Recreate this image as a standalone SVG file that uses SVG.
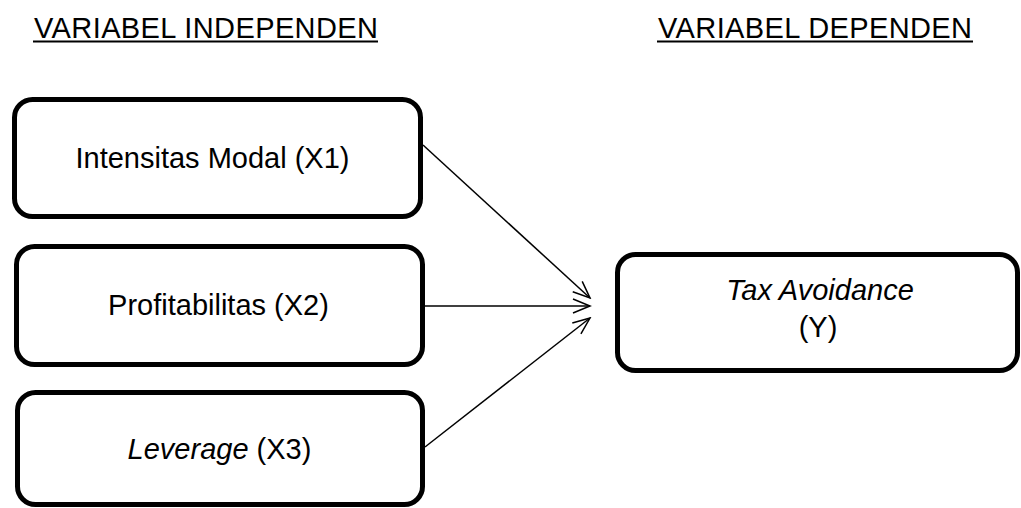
<svg xmlns="http://www.w3.org/2000/svg" width="1021" height="508" viewBox="0 0 1021 508">
<style>
.box{fill:#fff;stroke:#000;stroke-width:5}
.t{font-family:"Liberation Sans",Arial,sans-serif;font-size:29px;fill:#000;text-anchor:middle}
.h{font-family:"Liberation Sans",Arial,sans-serif;font-size:29px;fill:#000}
.i{font-style:italic}
.c{stroke:#000;stroke-width:1.5;fill:none}
</style>
<defs>
<marker id="arr" markerWidth="20" markerHeight="20" refX="18" refY="8" orient="auto" markerUnits="userSpaceOnUse">
<path d="M1,1 L18,8 L1,15" fill="none" stroke="#000" stroke-width="1.5"/>
</marker>
</defs>
<rect width="1021" height="508" fill="#fff"/>
<g id="header-independen">
<text class="h" x="34" y="38" textLength="344">VARIABEL INDEPENDEN</text>
<rect x="33" y="40.5" width="345" height="2" fill="#000"/>
</g>
<g id="header-dependen">
<text class="h" x="658" y="38" textLength="314">VARIABEL DEPENDEN</text>
<rect x="657" y="40.5" width="316" height="2" fill="#000"/>
</g>
<g id="connectors">
<line class="c" x1="423" y1="145" x2="590" y2="298" marker-end="url(#arr)"/>
<line class="c" x1="424" y1="306" x2="590" y2="306" marker-end="url(#arr)"/>
<line class="c" x1="425" y1="447" x2="590" y2="318" marker-end="url(#arr)"/>
</g>
<g id="node-x1">
<rect class="box" x="14.5" y="99.5" width="406" height="117" rx="18"/>
<text class="t" x="212.5" y="168">Intensitas Modal (X1)</text>
</g>
<g id="node-x2">
<rect class="box" x="16.5" y="246.5" width="406" height="118" rx="18"/>
<text class="t" x="218.5" y="315">Profitabilitas (X2)</text>
</g>
<g id="node-x3">
<rect class="box" x="17.5" y="392.5" width="405" height="112" rx="18"/>
<text class="t" x="219.5" y="459"><tspan class="i">Leverage</tspan> (X3)</text>
</g>
<g id="node-y">
<rect class="box" x="617.5" y="254.5" width="400" height="116" rx="18"/>
<text class="t i" x="820" y="300">Tax Avoidance</text>
<text class="t" x="818" y="337">(Y)</text>
</g>
</svg>
